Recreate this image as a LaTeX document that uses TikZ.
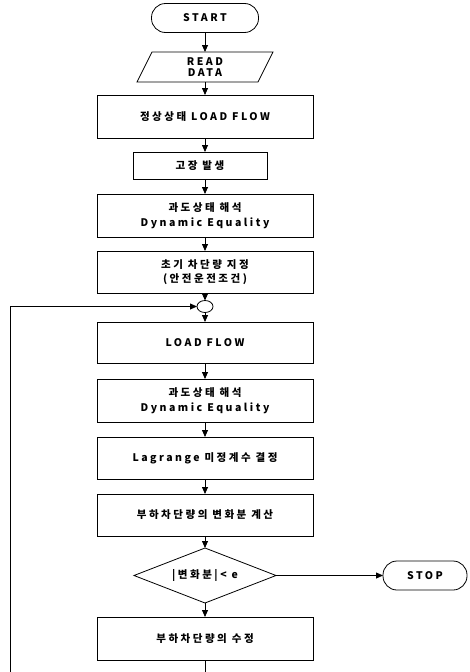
\documentclass[tikz,border=0pt]{standalone}
\usepackage{fontspec}
\setmainfont{Noto Sans CJK KR}[LetterSpace=24]
\usetikzlibrary{arrows.meta,shapes.geometric}
\begin{document}
\begin{tikzpicture}[x=1pt,y=-1pt,
  font=\fontsize{10.5}{14.5}\selectfont\bfseries,
  every node/.style={inner sep=0pt,outer sep=0pt,align=center},
  box/.style={draw,line width=0.8pt,minimum width=216pt,minimum height=43pt},
  term/.style={draw,line width=0.8pt,rounded corners=14pt},
  flow/.style={line width=0.8pt,-{Triangle[length=7pt,width=6pt]}},
  plain/.style={line width=0.8pt}]
\useasboundingbox (0,0) rectangle (470,672);
\node[term,minimum width=107pt,minimum height=29pt] (start) at (205,18) {START};
\node[minimum width=121pt,minimum height=30pt] (read) at (205,67) {READ\\[-3pt]DATA};
\draw[line width=0.8pt] ([xshift=7.5pt]read.north west) -- ([xshift=7.5pt]read.north east)
  -- ([xshift=-7.5pt]read.south east) -- ([xshift=-7.5pt]read.south west) -- cycle;
\node[box] (b1) at (205,116.5) {정상상태 LOAD FLOW};
\node[box,minimum width=134pt,minimum height=27pt] (b2) at (200,165.5) {고장 발생};
\node[box] (b3) at (205,215.5) {과도상태 해석\\Dynamic Equality};
\node[box,minimum height=42pt] (b4) at (205,272) {초기 차단량 지정\\(안전운전조건)};
\node[draw,ellipse,line width=0.8pt,minimum width=16pt,minimum height=12pt] (j) at (205,306.5) {};
\node[box,minimum height=41pt] (b5) at (205,342.5) {LOAD FLOW};
\node[box] (b6) at (205,400.5) {과도상태 해석\\Dynamic Equality};
\node[box,minimum height=42pt] (b7) at (205,458) {Lagrange 미정계수 결정};
\node[box,minimum height=42pt] (b8) at (205,515) {부하차단량의 변화분 계산};
\node[draw,diamond,aspect=2.6,line width=0.8pt,minimum width=142pt,minimum height=55pt,inner sep=0pt] (d) at (205,575.5) {|변화분|< e};
\node[term,minimum width=84pt,minimum height=29pt] (stop) at (425,575.5) {STOP};
\node[box] (b9) at (205,638.5) {부하차단량의 수정};
\coordinate (c1) at (205,672);
\coordinate (c2) at (10,672);
\coordinate (c3) at (10,306.5);
\draw[flow] (start) -- (read);
\draw[flow] (read.south) -- (b1);
\draw[flow] (b1.south) -- (b1.south |- b2.north);
\draw[flow] (b1.south |- b2.south) -- (b3.north);
\draw[flow] (b3) -- (b4);
\draw[flow] (b4) -- (j);
\draw[flow] (j) -- (b5);
\draw[flow] (b5) -- (b6);
\draw[flow] (b6) -- (b7);
\draw[flow] (b7) -- (b8);
\draw[flow] (b8) -- (d);
\draw[flow] (d) -- (b9);
\draw[flow] (d.east) -- (stop.west);
\draw[flow] (b9.south) -- (c1) -- (c2) -- (c3) -- (j.west);
\end{tikzpicture}
\end{document}
